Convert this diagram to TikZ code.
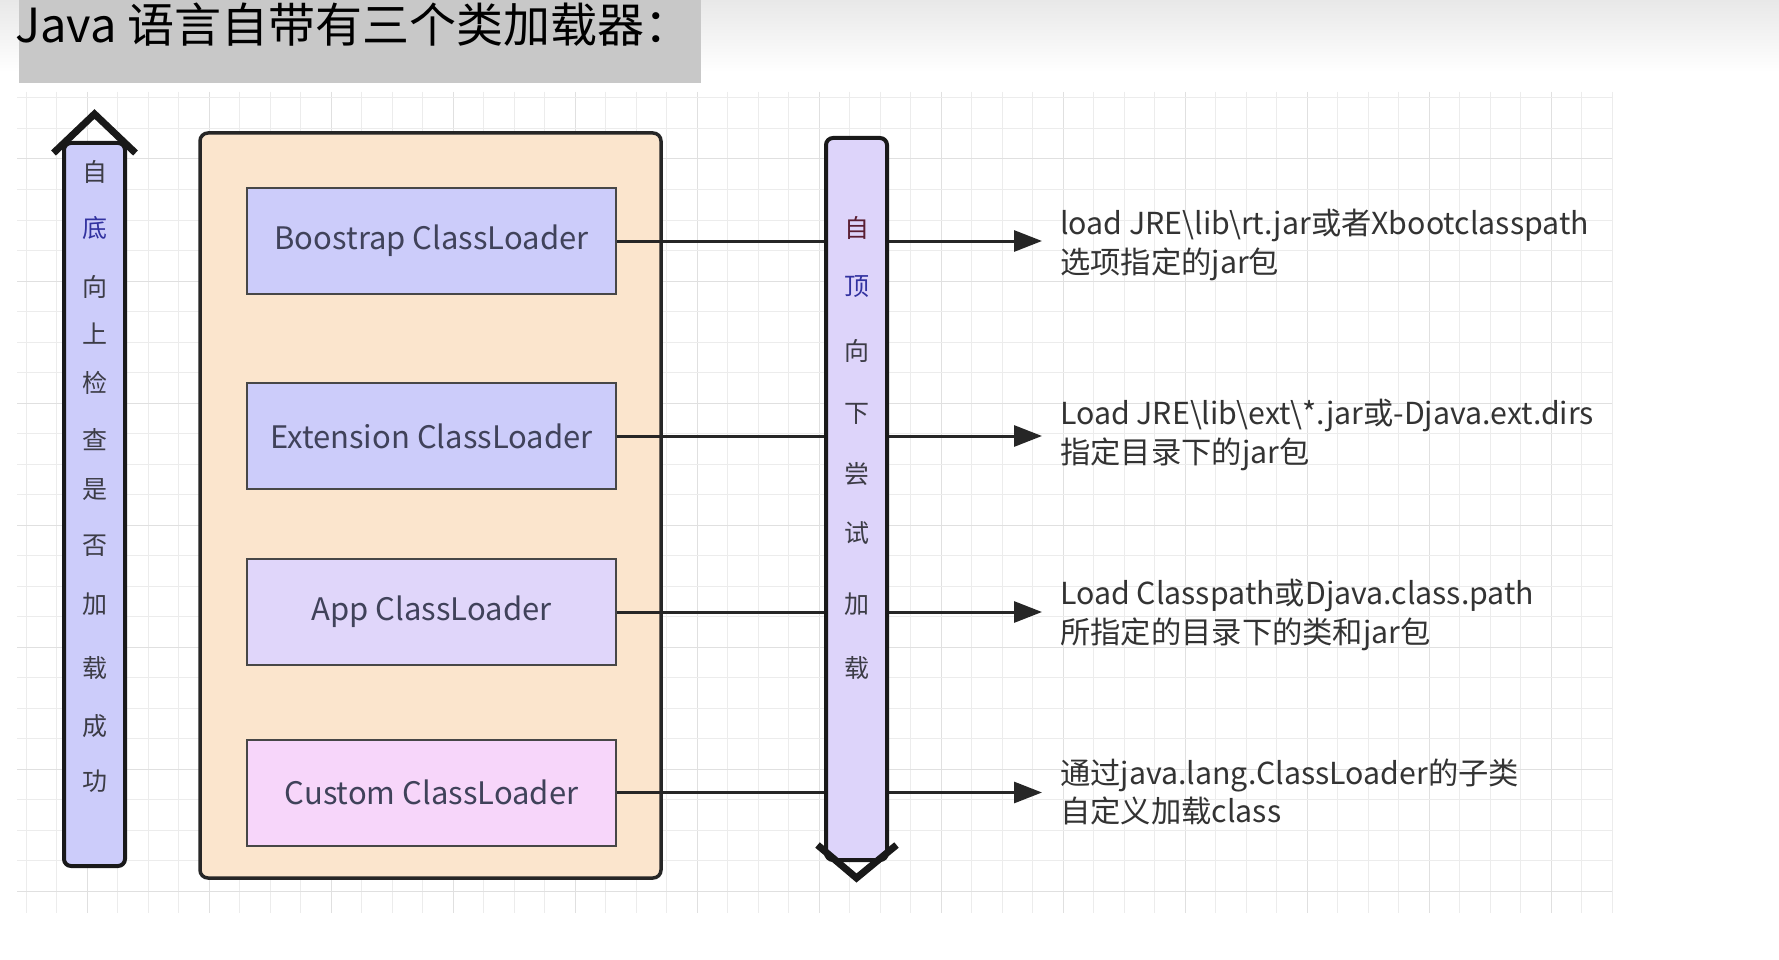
\documentclass[tikz,border=0pt]{standalone}
\usepackage{fontspec}
\setmainfont{Noto Sans CJK SC}
\usetikzlibrary{arrows.meta}
\definecolor{gridc}{RGB}{236,236,236}
\definecolor{gridm}{RGB}{224,224,224}
\definecolor{titlebg}{RGB}{200,200,200}
\definecolor{lav}{RGB}{204,204,250}
\definecolor{lavb}{RGB}{221,212,250}
\definecolor{appc}{RGB}{224,214,250}
\definecolor{custc}{RGB}{247,214,250}
\definecolor{orangec}{RGB}{251,229,205}
\definecolor{boxtext}{RGB}{64,66,90}
\definecolor{chartext}{RGB}{60,60,70}
\definecolor{bluetext}{RGB}{50,50,160}
\definecolor{redtext}{RGB}{90,30,50}
\definecolor{desctext}{RGB}{51,51,51}
\begin{document}
\begin{tikzpicture}[x=1pt,y=-1pt,
  gline/.style={draw=gridc, line width=1pt},
  mline/.style={draw=gridm, line width=1pt},
  loader/.style={draw=black!72, line width=2pt, minimum width=369pt, minimum height=106pt,
     inner sep=0pt, text=boxtext, font=\fontsize{31}{34}\selectfont},
  conn/.style={draw=black!85, line width=3pt},
  tipconn/.style={conn, -{Triangle[length=28pt,width=21pt]}},
  vchar/.style={text=chartext, font=\fontsize{25}{25}\selectfont, inner sep=0pt},
  desc/.style={anchor=west, align=left, text=desctext, inner sep=0pt,
     font=\fontsize{30.3}{38.5}\selectfont},
  arrowbody/.style={draw=black!90, line width=4pt, rounded corners=7pt, minimum width=61pt, inner sep=0pt},
  chevron/.style={draw=black!90, line width=7pt, miter limit=10}
]
\useasboundingbox (0,0) rectangle (1779,960);
\fill[white] (0,0) rectangle (1779,960);
\shade[top color=black!9, bottom color=white] (0,0) rectangle (1779,72);

% grid
\foreach \k in {0,...,52}{
  \pgfmathsetmacro{\gx}{1612-30.5*\k}
  \pgfmathtruncatemacro{\m}{mod(\k,4)}
  \ifnum\m=2 \draw[mline] (\gx,92) -- (\gx,913); \else \draw[gline] (\gx,92) -- (\gx,913); \fi
}
\foreach \n in {0,...,26}{
  \pgfmathsetmacro{\gy}{98+30.5*\n}
  \pgfmathtruncatemacro{\m}{mod(\n,4)}
  \ifnum\m=2 \draw[mline] (17,\gy) -- (1612,\gy); \else \draw[gline] (17,\gy) -- (1612,\gy); \fi
}

% title
\fill[titlebg] (19,0) rectangle (701,83);
\node[anchor=west, inner sep=0pt, font=\fontsize{47}{47}\selectfont, text=black] (title) at (15,25) {Java 语言自带有三个类加载器：};

% container
\node[draw=black!85, line width=3.5pt, fill=orangec, rounded corners=8pt, minimum width=461pt, minimum height=745pt, inner sep=0pt] (cont) at (430.5,505.5) {};

% loaders
\node[loader, fill=lav] (b1) at (431.5,241) {Boostrap ClassLoader};
\node[loader, fill=lav] (b2) at (431.5,436) {Extension ClassLoader};
\node[loader, fill=appc] (b3) at (431.5,612) {App ClassLoader};
\node[loader, fill=custc] (b4) at (431.5,792.5) {Custom ClassLoader};

% arrow tips
\coordinate (tipx) at (1042,0);
\draw[tipconn] (b1.east) -- (b1.east -| tipx);
\draw[tipconn] (b2.east) -- (b2.east -| tipx);
\draw[tipconn] (b3.east) -- (b3.east -| tipx);
\draw[tipconn] (b4.east) -- (b4.east -| tipx);

% left up arrow
\node[arrowbody, fill=lav, minimum height=723pt] (up) at (94.5,504.5) {};
\draw[chevron] ([shift={(-41,12)}]up.north) -- ([shift={(0,-27)}]up.north) -- ([shift={(41,12)}]up.north);

% right down arrow
\node[arrowbody, fill=lavb, minimum height=722pt] (down) at (856.5,499) {};
\draw[chevron] ([shift={(-39,-17)}]down.south) -- ([shift={(0,16)}]down.south) -- ([shift={(40,-17)}]down.south);

% vertical characters
\foreach \c/\y/\col [count=\i] in {自/172/chartext, 底/228/bluetext, 向/287/chartext, 上/334/chartext, 检/383/chartext, 查/440/chartext, 是/490/chartext, 否/546/chartext, 加/604/chartext, 载/668/chartext, 成/726/chartext, 功/781/chartext}{
  \node[vchar, text=\col] (lc\i) at (95,\y) {\c};
}
\foreach \c/\y/\col [count=\i] in {自/228/redtext, 顶/287/bluetext, 向/351/chartext, 下/414/chartext, 尝/474/chartext, 试/533/chartext, 加/604/chartext, 载/668/chartext}{
  \node[vchar, text=\col] (rc\i) at (857,\y) {\c};
}

% descriptions
\node[desc] (d1) at (1060,245) {load JRE\textbackslash lib\textbackslash rt.jar或者Xbootclasspath\\选项指定的jar包};
\node[desc] (d2) at (1060,435) {Load JRE\textbackslash lib\textbackslash ext\textbackslash *.jar或-Djava.ext.dirs\\指定目录下的jar包};
\node[desc] (d3) at (1060,615) {Load Classpath或Djava.class.path\\所指定的目录下的类和jar包};
\node[desc] (d4) at (1060,792) {通过java.lang.ClassLoader的子类\\自定义加载class};
\end{tikzpicture}
\end{document}
